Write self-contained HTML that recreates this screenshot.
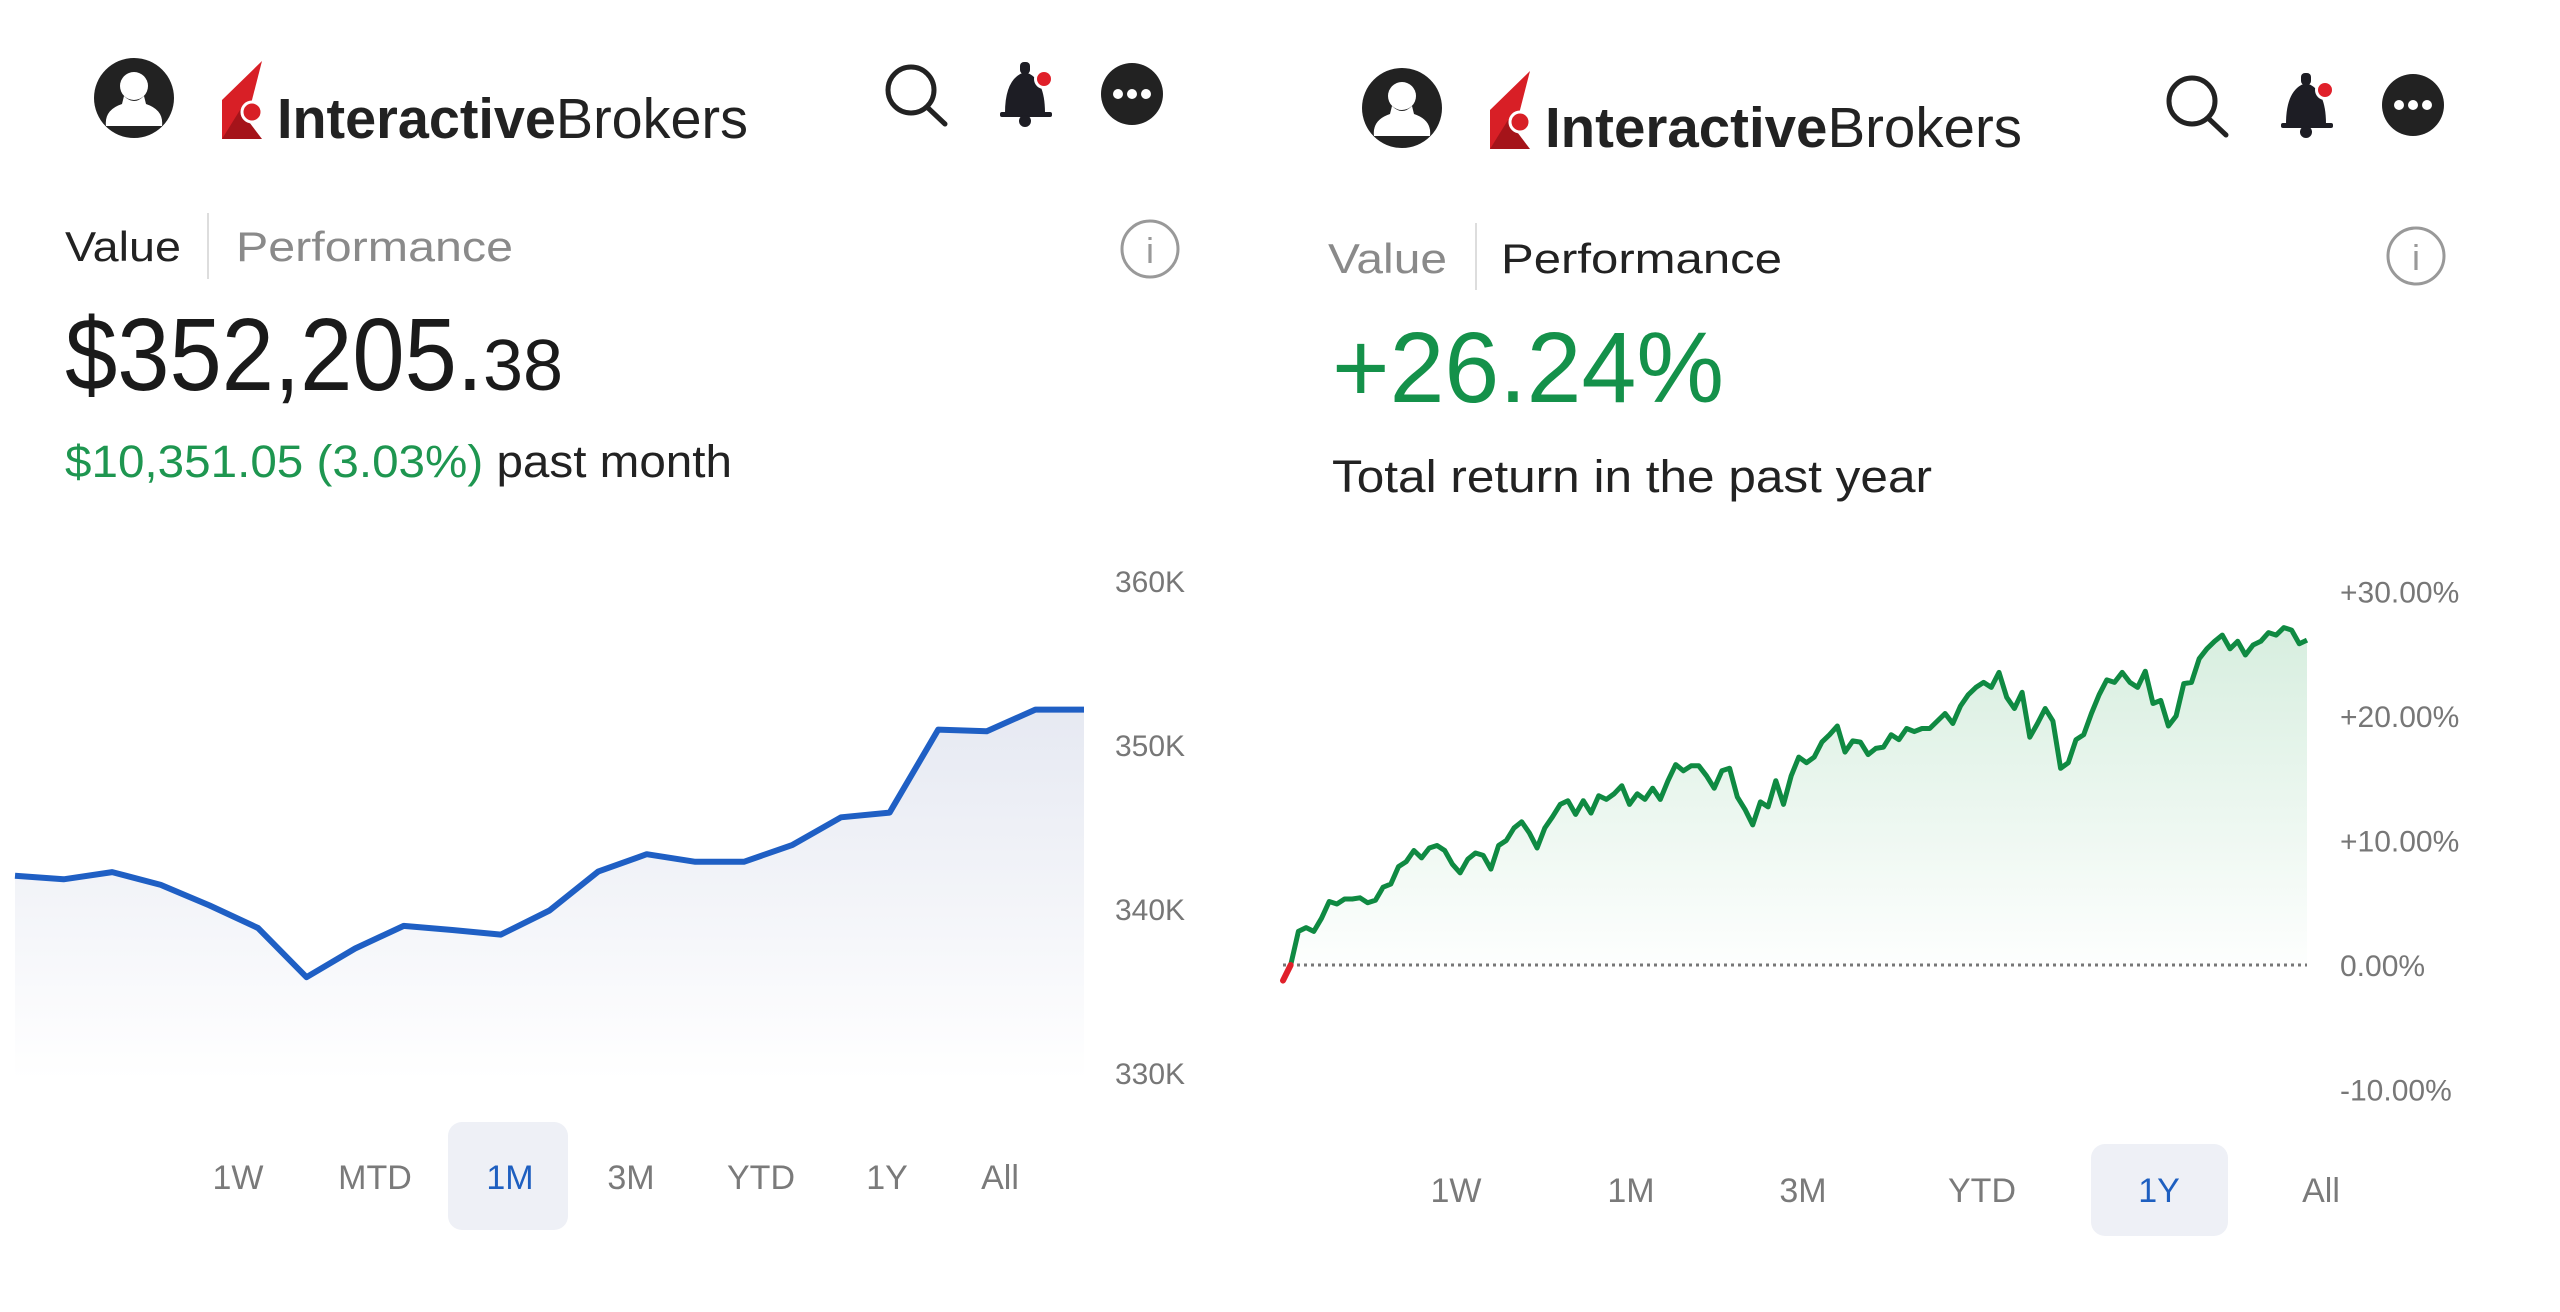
<!DOCTYPE html>
<html><head><meta charset="utf-8">
<style>
html,body{margin:0;padding:0;background:#fff;}
svg{display:block;font-family:"Liberation Sans",sans-serif;}
</style></head>
<body>
<svg id="root" width="2560" height="1312" viewBox="0 0 2560 1312" xmlns="http://www.w3.org/2000/svg">
<defs>
<linearGradient id="gBlue" x1="0" y1="0" x2="0" y2="1">
<stop offset="0" stop-color="#e6e9f2"/><stop offset="1" stop-color="#ffffff"/></linearGradient>
<linearGradient id="gGreen" x1="0" y1="0" x2="0" y2="1">
<stop offset="0" stop-color="#d7eedf"/><stop offset="1" stop-color="#ffffff"/></linearGradient>
<g id="hdrLogo">
<circle cx="134" cy="98" r="40" fill="#222"/>
<circle cx="134" cy="86" r="14" fill="#fff"/>
<path d="M124 96 Q134 106 144 96 L146 104 Q164 110 162 126 L106 126 Q104 110 122 104 Z" fill="#fff"/>
<path d="M222 139 L222 100 L262 61 L242 139 Z" fill="#d81f26"/>
<path d="M222 139 L240 110 L262 139 Z" fill="#a5141a"/>
<circle cx="252" cy="112" r="10" fill="#d81f26" stroke="#fff" stroke-width="3"/>
</g>
<g id="hdrIcons">
<circle cx="911" cy="90" r="23" fill="none" stroke="#222" stroke-width="5"/>
<line x1="927" y1="107" x2="945" y2="124" stroke="#222" stroke-width="5" stroke-linecap="round"/>
<path d="M1005 113 Q1005 78 1025 72 Q1045 78 1045 113 Z" fill="#1d1d24"/>
<rect x="1000" y="112" width="52" height="5" rx="2" fill="#1d1d24"/>
<rect x="1020" y="62" width="10" height="12" rx="4" fill="#1d1d24"/>
<circle cx="1025" cy="121" r="6" fill="#1d1d24"/>
<circle cx="1044" cy="79" r="10" fill="#fff"/>
<circle cx="1044" cy="79" r="7" fill="#e0202a"/>
<circle cx="1132" cy="94" r="31" fill="#222"/>
<circle cx="1118" cy="94" r="5" fill="#fff"/><circle cx="1132" cy="94" r="5" fill="#fff"/><circle cx="1146" cy="94" r="5" fill="#fff"/>
</g>
</defs>

<!-- LEFT PANEL -->
<g>
<use href="#hdrLogo"/>
<text x="277" y="138" font-size="57" fill="#222" textLength="471" lengthAdjust="spacingAndGlyphs"><tspan font-weight="bold">Interactive</tspan>Brokers</text>
<use href="#hdrIcons"/>
</g>
<g>
<text x="65" y="261" font-size="42" fill="#222" textLength="116" lengthAdjust="spacingAndGlyphs">Value</text>
<line x1="208" y1="213" x2="208" y2="279" stroke="#ddd" stroke-width="2"/>
<text x="236" y="261" font-size="42" fill="#8a8a8a" textLength="277" lengthAdjust="spacingAndGlyphs">Performance</text>
<circle cx="1150" cy="249" r="28" fill="none" stroke="#999" stroke-width="3"/>
<text x="1150" y="263" font-size="36" fill="#999" text-anchor="middle">i</text>
</g>
<text x="65" y="390" font-size="103" fill="#1a1a1a"><tspan textLength="418" lengthAdjust="spacingAndGlyphs">$352,205.</tspan><tspan font-size="72">38</tspan></text>
<text x="65" y="477" font-size="45" textLength="667" lengthAdjust="spacingAndGlyphs"><tspan fill="#1e9650">$10,351.05 (3.03%)</tspan><tspan fill="#222"> past month</tspan></text>

<g id="leftChart"></g>
<g id="leftBtns"></g>

<!-- RIGHT PANEL -->
<g>
<use href="#hdrLogo" transform="translate(1268,10)"/>
<text x="1545" y="147" font-size="57" fill="#222" textLength="477" lengthAdjust="spacingAndGlyphs"><tspan font-weight="bold">Interactive</tspan>Brokers</text>
<use href="#hdrIcons" transform="translate(1281,11)"/>
</g>
<g>
<text x="1328" y="273" font-size="42" fill="#8a8a8a" textLength="119" lengthAdjust="spacingAndGlyphs">Value</text>
<line x1="1476" y1="223" x2="1476" y2="290" stroke="#ddd" stroke-width="2"/>
<text x="1501" y="273" font-size="42" fill="#222" textLength="281" lengthAdjust="spacingAndGlyphs">Performance</text>
<circle cx="2416" cy="256" r="28" fill="none" stroke="#999" stroke-width="3"/>
<text x="2416" y="270" font-size="36" fill="#999" text-anchor="middle">i</text>
</g>
<text x="1332" y="402" font-size="100" fill="#14914a" textLength="392" lengthAdjust="spacingAndGlyphs">+26.24%</text>
<text x="1332" y="492" font-size="45" fill="#222" textLength="600" lengthAdjust="spacingAndGlyphs">Total return in the past year</text>

<g id="rightChart"></g>
<g id="rightBtns"></g>
</svg>

<script>
const NS = "http://www.w3.org/2000/svg";
// ---- Left chart data ----
const valueSeries = [342.03,341.81,342.25,341.47,340.22,338.84,335.84,337.59,338.97,338.72,338.44,339.91,342.28,343.34,342.88,342.88,343.91,345.59,345.88,350.94,350.84,352.16,352.16];
const valueTicks = [360,350,340,330];
const valueTickLabels = ["360K","350K","340K","330K"];
const leftRanges = ["1W","MTD","1M","3M","YTD","1Y","All"];
// ---- Right chart data ----
const perfSeries = [-1.25,0,2.7,3.0,2.7,3.75,5.1,4.9,5.3,5.3,5.4,5.0,5.2,6.25,6.5,7.9,8.3,9.2,8.6,9.4,9.6,9.2,8.1,7.4,8.5,9.0,8.8,7.7,9.6,10.0,11.0,11.5,10.6,9.4,11.0,11.9,12.9,13.2,12.1,13.2,12.2,13.6,13.3,13.75,14.4,12.9,13.75,13.3,14.2,13.3,14.8,16.1,15.6,16.0,16.0,15.2,14.2,15.6,15.8,13.5,12.5,11.25,13.1,12.7,14.8,12.9,15.2,16.7,16.25,16.7,17.9,18.5,19.2,17.1,18.0,17.9,16.9,17.4,17.5,18.5,18.1,19.0,18.75,19.0,19.0,19.6,20.2,19.4,20.8,21.7,22.3,22.7,22.3,23.5,21.5,20.6,21.9,18.3,19.4,20.6,19.6,15.8,16.25,18.1,18.5,20.2,21.7,22.9,22.7,23.5,22.7,22.3,23.6,21.0,21.25,19.2,20.0,22.6,22.7,24.6,25.4,26.0,26.5,25.4,26.0,24.9,25.7,26.0,26.7,26.5,27.1,26.9,25.8,26.1];
const perfTicks = [30,20,10,0,-10];
const perfTickLabels = ["+30.00%","+20.00%","+10.00%","0.00%","-10.00%"];
const rightRanges = ["1W","1M","3M","YTD","1Y","All"];

function mk(tag, attrs, parent){const e=document.createElementNS(NS,tag);for(const k in attrs)e.setAttribute(k,attrs[k]);parent.appendChild(e);return e;}

// Left axis functions
const lx = i => 15 + i*(1084-15)/(valueSeries.length-1);
const ly = v => 909 - (v-340)*16.4;
// Right axis functions
const rx = i => 1283 + i*(2307-1283)/(perfSeries.length-1);
const ry = v => 965 - v*12.45;

(function(){
  const g=document.getElementById('leftChart');
  let d=valueSeries.map((v,i)=>(i?'L':'M')+lx(i).toFixed(1)+' '+ly(v).toFixed(1)).join(' ');
  const area=mk('path',{d:d+` L${lx(valueSeries.length-1)} 1080 L${lx(0)} 1080 Z`,fill:'url(#gBlue)'},g);
  
  
  const line=mk('path',{d:d,fill:'none',stroke:'#1f5fc4','stroke-width':6,'stroke-linejoin':'round'},g);
  
  
  valueTicks.forEach((t,i)=>{
    const tx=mk('text',{x:1115,y:ly(t)+11,'font-size':30,fill:'#777'},g);
    tx.textContent=valueTickLabels[i];
    
    
  });
  const bg=document.getElementById('leftBtns');
  const cx=[238,375,510,631,761,887,1000];
  const sel=mk('rect',{x:448,y:1122,width:120,height:108,rx:14,fill:'#eef0f6'},bg);
  
  
  leftRanges.forEach((r,i)=>{
    const t=mk('text',{x:cx[i],y:1189,'font-size':34,'text-anchor':'middle',fill:r==='1M'?'#1e5fc0':'#7a7a7a'},bg);
    t.textContent=r;
    
    
  });
})();

(function(){
  const g=document.getElementById('rightChart');
  let d=perfSeries.map((v,i)=>(i?'L':'M')+rx(i).toFixed(1)+' '+ry(v).toFixed(1)).join(' ');
  const area=mk('path',{d:d+` L${rx(perfSeries.length-1)} ${ry(0)} L${rx(0)} ${ry(0)} Z`,fill:'url(#gGreen)'},g);
  
  
  const zl=mk('line',{x1:1283,x2:2307,y1:ry(0),y2:ry(0),stroke:'#777','stroke-width':3,'stroke-dasharray':'3 4'},g);
  
  
  const line=mk('path',{d:d,fill:'none',stroke:'#0f8a42','stroke-width':5,'stroke-linejoin':'round'},g);
  
  
  const neg=mk('path',{d:`M${rx(0)} ${ry(perfSeries[0])} L${rx(1)} ${ry(perfSeries[1])}`,stroke:'#e0202a','stroke-width':6,'stroke-linecap':'round'},g);
  
  
  perfTicks.forEach((t,i)=>{
    const tx=mk('text',{x:2340,y:ry(t)+11,'font-size':30,fill:'#777'},g);
    tx.textContent=perfTickLabels[i];
    
    
  });
  const bg=document.getElementById('rightBtns');
  const cx=[1456,1631,1803,1982,2159,2321];
  const sel=mk('rect',{x:2091,y:1144,width:137,height:92,rx:14,fill:'#eef0f6'},bg);
  
  
  rightRanges.forEach((r,i)=>{
    const t=mk('text',{x:cx[i],y:1202,'font-size':34,'text-anchor':'middle',fill:r==='1Y'?'#1e5fc0':'#7a7a7a'},bg);
    t.textContent=r;
    
    
  });
})();
</script>
</body></html>
